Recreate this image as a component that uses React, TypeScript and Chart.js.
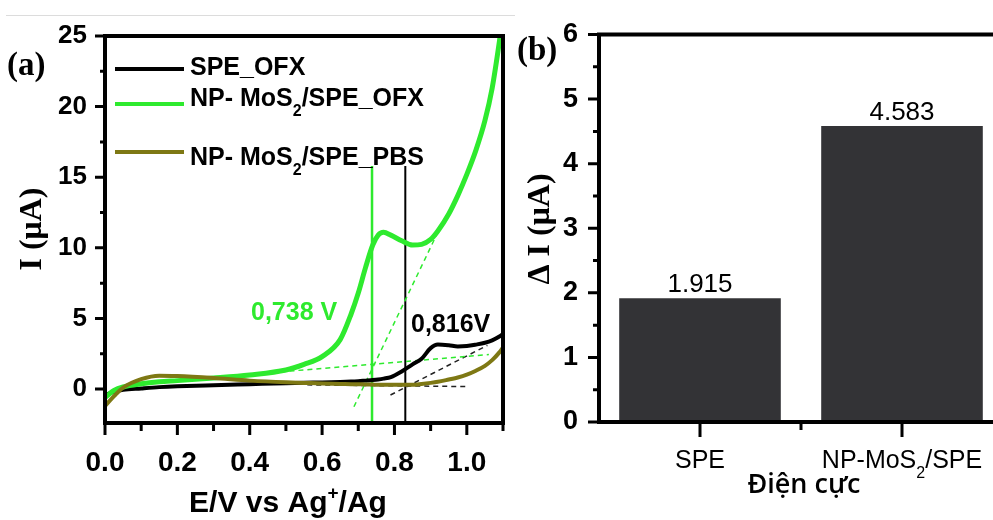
import React, { useEffect, useRef } from "react";
import { Chart, registerables } from "chart.js";
Chart.register(...registerables);

// ---------- Panel (a) data ----------
const potential = [0, 0.025, 0.05, 0.1, 0.15, 0.2, 0.3, 0.4, 0.5, 0.55, 0.6, 0.65, 0.68, 0.7, 0.72, 0.74, 0.755, 0.77, 0.79, 0.82, 0.85, 0.875, 0.9, 0.92, 0.95, 0.975, 1.0, 1.025, 1.05, 1.07, 1.09, 1.1];
const speOfx = [-0.4, -0.2, -0.05, 0.05, 0.14, 0.2, 0.28, 0.35, 0.42, 0.45, 0.47, 0.5, 0.53, 0.56, 0.6, 0.64, 0.68, 0.74, 0.85, 1.25, 1.75, 2.15, 2.9, 3.15, 3.1, 3.02, 3.05, 3.15, 3.28, 3.45, 3.72, 3.9];
const mos2Ofx = [-0.6, -0.1, 0.15, 0.38, 0.52, 0.6, 0.78, 1.0, 1.35, 1.75, 2.3, 3.5, 5.3, 6.8, 8.6, 10.2, 10.9, 11.1, 10.9, 10.5, 10.2, 10.25, 10.6, 11.2, 12.4, 13.7, 15.2, 16.9, 19.0, 21.3, 24.6, 26.5];
const mos2Pbs = [-1.2, -0.5, 0.1, 0.7, 0.95, 0.92, 0.78, 0.6, 0.48, 0.44, 0.4, 0.37, 0.35, 0.34, 0.33, 0.32, 0.31, 0.31, 0.3, 0.3, 0.3, 0.36, 0.44, 0.52, 0.68, 0.82, 1.02, 1.3, 1.65, 2.05, 2.6, 2.95];
const seriesNames = ["SPE_OFX", "NP- MoS_{2}/SPE_OFX", "NP- MoS_{2}/SPE_PBS"];

const greenBaseX = [0.485, 1.061];
const greenBaseY = [1.22, 2.45];
const greenSlopeX = [0.688, 0.918];
const greenSlopeY = [-1.25, 11.0];
const blackBaseX = [0.559, 0.997];
const blackBaseY = [0.3, 0.18];
const blackSlopeX = [0.789, 1.057];
const blackSlopeY = [-0.42, 3.1];

const onsetPotentials = [0.738, 0.83];
const onsetLineTop = 15.8;
const onsetLabels = ["0,738 V", "0,816V"];

const xMajorA = [0, 0.2, 0.4, 0.6, 0.8, 1.0];
const xMinorA = [0.1, 0.3, 0.5, 0.7, 0.9, 1.1];
const yMajorA = [0, 5, 10, 15, 20, 25];
const yMinorA = [2.5, 7.5, 12.5, 17.5, 22.5];

// ---------- Panel (b) data ----------
const electrodes = ["SPE", "NP-MoS_{2}/SPE"];
const deltaI = [1.915, 4.583];
const yMajorB = [0, 1, 2, 3, 4, 5, 6];
const yMinorB = [0.5, 1.5, 2.5, 3.5, 4.5, 5.5];

// ---------- styles ----------
const GREEN = "#2eea2e";
const OLIVE = "#7e7814";
const BAR = "#333336";
const SANS = '"Liberation Sans", Arial, sans-serif';
const SERIF = '"Liberation Serif", "Times New Roman", serif';

type Seg = { t: string; k: number };
function parseRich(s: string): Seg[] {
  const segs: Seg[] = [];
  const re = /([_^])\{([^}]*)\}/g;
  let last = 0;
  let m: RegExpExecArray | null;
  while ((m = re.exec(s))) {
    if (m.index > last) segs.push({ t: s.slice(last, m.index), k: 0 });
    segs.push({ t: m[2], k: m[1] === "_" ? 1 : -1 });
    last = re.lastIndex;
  }
  if (last < s.length) segs.push({ t: s.slice(last), k: 0 });
  return segs;
}
function drawRich(ctx: CanvasRenderingContext2D, s: string, x: number, y: number, size: number, weight: string, family: string, color: string, align: string) {
  const segs = parseRich(s);
  const small = Math.round(size * 0.62);
  const fontFor = (k: number) => `${weight} ${k === 0 ? size : small}px ${family}`;
  let w = 0;
  for (const sg of segs) {
    ctx.font = fontFor(sg.k);
    w += ctx.measureText(sg.t).width;
  }
  let cx = align === "center" ? x - w / 2 : align === "right" ? x - w : x;
  ctx.save();
  ctx.textAlign = "left";
  ctx.textBaseline = "alphabetic";
  ctx.fillStyle = color;
  for (const sg of segs) {
    ctx.font = fontFor(sg.k);
    const dy = sg.k === 1 ? size * 0.4 : sg.k === -1 ? -size * 0.45 : 0;
    ctx.fillText(sg.t, cx, y + dy);
    cx += ctx.measureText(sg.t).width;
  }
  ctx.restore();
}
function drawRotated(ctx: CanvasRenderingContext2D, s: string, cx: number, cy: number, font: string) {
  ctx.save();
  ctx.translate(cx, cy);
  ctx.rotate(-Math.PI / 2);
  ctx.font = font;
  ctx.fillStyle = "#000";
  ctx.textAlign = "center";
  ctx.textBaseline = "middle";
  ctx.fillText(s, 0, 0);
  ctx.restore();
}
const pts = (xs: number[], ys: number[]) => xs.map((x, i) => ({ x, y: ys[i] }));

function PanelA() {
  const ref = useRef<HTMLCanvasElement>(null);
  useEffect(() => {
    const yMin = -2.4;
    const lineDs = (label: string, data: any, color: string, width: number, order: number, dash?: number[]) => ({
      label, data, borderColor: color, backgroundColor: color, borderWidth: width, pointRadius: 0,
      cubicInterpolationMode: "monotone", fill: false, order, borderDash: dash || [],
    });
    const decor = {
      id: "decorA",
      afterDraw(chart: any) {
        const ctx = chart.ctx as CanvasRenderingContext2D;
        const { left, right, top, bottom } = chart.chartArea;
        const sx = chart.scales.x, sy = chart.scales.y;
        ctx.save();
        // page line
        ctx.strokeStyle = "#dcdcdc";
        ctx.lineWidth = 1;
        ctx.beginPath(); ctx.moveTo(6, 15.5); ctx.lineTo(515, 15.5); ctx.stroke();
        // frame
        ctx.strokeStyle = "#000";
        ctx.lineWidth = 4;
        ctx.strokeRect(left, top, right - left, bottom - top);
        // ticks
        ctx.lineWidth = 3;
        ctx.beginPath();
        for (const v of xMajorA) { const p = sx.getPixelForValue(v); ctx.moveTo(p, bottom); ctx.lineTo(p, bottom + 12); }
        for (const v of xMinorA) { const p = sx.getPixelForValue(v); ctx.moveTo(p, bottom); ctx.lineTo(p, bottom + 8); }
        for (const v of yMajorA) { const p = sy.getPixelForValue(v); ctx.moveTo(left, p); ctx.lineTo(left - 10, p); }
        for (const v of yMinorA) { const p = sy.getPixelForValue(v); ctx.moveTo(left, p); ctx.lineTo(left - 5, p); }
        ctx.stroke();
        // legend
        const legendColors = ["#000", GREEN, OLIVE];
        const lineYs = [69, 104, 152];
        const textYs = [75, 106, 165];
        seriesNames.forEach((n, i) => {
          ctx.strokeStyle = legendColors[i];
          ctx.lineWidth = 4;
          ctx.beginPath(); ctx.moveTo(115, lineYs[i]); ctx.lineTo(184, lineYs[i]); ctx.stroke();
          drawRich(ctx, n, 190, textYs[i], 25, "bold", SANS, "#000", "left");
        });
        // onset annotations
        drawRich(ctx, onsetLabels[0], 251, 320, 25, "bold", SANS, GREEN, "left");
        drawRich(ctx, onsetLabels[1], 411, 332, 25, "bold", SANS, "#000", "left");
        // titles
        drawRich(ctx, "(a)", 7, 75, 33, "bold", SERIF, "#000", "left");
        drawRich(ctx, "E/V vs Ag^{+}/Ag", 288, 512, 30, "bold", SANS, "#000", "center");
        drawRotated(ctx, "I (\u03bcA)", 33, 229, `bold 32px ${SERIF}`);
        ctx.restore();
      },
    };
    const chart = new Chart(ref.current!, {
      type: "line",
      data: {
        datasets: [
          lineDs(seriesNames[0], pts(potential, speOfx), "#000", 4, 3),
          lineDs(seriesNames[1], pts(potential, mos2Ofx), GREEN, 5, 2),
          lineDs(seriesNames[2], pts(potential, mos2Pbs), OLIVE, 4, 1),
          lineDs("t1", pts(greenBaseX, greenBaseY), GREEN, 1.5, 4, [5, 4]),
          lineDs("t2", pts(greenSlopeX, greenSlopeY), GREEN, 1.5, 4, [5, 4]),
          lineDs("t3", pts(blackBaseX, blackBaseY), "#222", 1.5, 4, [5, 4]),
          lineDs("t4", pts(blackSlopeX, blackSlopeY), "#222", 1.5, 4, [5, 4]),
          lineDs("v1", pts([onsetPotentials[0], onsetPotentials[0]], [yMin, onsetLineTop]), GREEN, 2.5, 5),
          lineDs("v2", pts([onsetPotentials[1], onsetPotentials[1]], [yMin, onsetLineTop]), "#000", 2, 5),
        ] as any,
      },
      options: {
        animation: false,
        responsive: false,
        layout: { padding: { left: 0, top: 36, right: 12, bottom: 0 } },
        plugins: { legend: { display: false }, tooltip: { enabled: false } },
        scales: {
          x: {
            type: "linear", min: 0, max: 1.1,
            grid: { display: false, drawTicks: false }, border: { display: false },
            ticks: { color: "#000", padding: 26, maxRotation: 0, autoSkip: false, font: { family: SANS, size: 28, weight: "bold", lineHeight: 1 }, callback: (v: any) => Number(v).toFixed(1) },
            afterBuildTicks: (s: any) => { s.ticks = xMajorA.map((v) => ({ value: v })); },
            afterFit: (s: any) => { s.height = 97; },
          },
          y: {
            type: "linear", min: yMin, max: 25,
            grid: { display: false, drawTicks: false }, border: { display: false },
            ticks: { color: "#000", padding: 18, autoSkip: false, font: { family: SANS, size: 26, weight: "bold", lineHeight: 1 } },
            afterBuildTicks: (s: any) => { s.ticks = yMajorA.map((v) => ({ value: v })); },
            afterFit: (s: any) => { s.width = 105; },
          },
        },
      } as any,
      plugins: [decor],
    });
    return () => chart.destroy();
  }, []);
  return <canvas ref={ref} width={515} height={520} style={{ position: "absolute", left: 0, top: 0, width: 515, height: 520 }} />;
}

function PanelB() {
  const ref = useRef<HTMLCanvasElement>(null);
  useEffect(() => {
    const decor = {
      id: "decorB",
      afterDraw(chart: any) {
        const ctx = chart.ctx as CanvasRenderingContext2D;
        const { left, right, top, bottom } = chart.chartArea;
        const sx = chart.scales.x, sy = chart.scales.y;
        ctx.save();
        ctx.strokeStyle = "#000";
        ctx.lineWidth = 4;
        ctx.strokeRect(left, top, right - left, bottom - top);
        ctx.lineWidth = 3;
        ctx.beginPath();
        for (const v of yMajorB) { const p = sy.getPixelForValue(v); ctx.moveTo(left, p); ctx.lineTo(left - 11, p); }
        for (const v of yMinorB) { const p = sy.getPixelForValue(v); ctx.moveTo(left, p); ctx.lineTo(left - 6, p); }
        electrodes.forEach((_, i) => {
          const p = sx.getPixelForValue(i);
          ctx.moveTo(p, bottom); ctx.lineTo(p, bottom + 15);
          if (i < electrodes.length - 1) {
            const q = (p + sx.getPixelForValue(i + 1)) / 2;
            ctx.moveTo(q, bottom); ctx.lineTo(q, bottom + 8);
          }
        });
        ctx.stroke();
        // category labels
        electrodes.forEach((c, i) => {
          drawRich(ctx, c, sx.getPixelForValue(i), 468, 25, "normal", SANS, "#000", "center");
        });
        // value labels
        const meta = chart.getDatasetMeta(0);
        meta.data.forEach((el: any, i: number) => {
          drawRich(ctx, deltaI[i].toFixed(3), el.x, el.y - 6, 26, "normal", SANS, "#000", "center");
        });
        drawRich(ctx, "(b)", 12, 60, 33, "bold", SERIF, "#000", "left");
        drawRich(ctx, "\u0110i\u1ec7n c\u1ef1c", 299, 493, 27, "600", '"Open Sans", "Noto Sans", sans-serif', "#000", "center");
        drawRotated(ctx, "\u0394 I (\u03bcA)", 36, 229, `bold 32px ${SERIF}`);
        ctx.restore();
      },
    };
    const chart = new Chart(ref.current!, {
      type: "bar",
      data: {
        labels: electrodes.map((e) => e.replace(/_\{([^}]*)\}/g, "$1")),
        datasets: [{ data: deltaI, backgroundColor: BAR, borderWidth: 0, barPercentage: 0.8, categoryPercentage: 1 }],
      },
      options: {
        animation: false,
        responsive: false,
        layout: { padding: { left: 0, top: 33, right: 12, bottom: 0 } },
        plugins: { legend: { display: false }, tooltip: { enabled: false } },
        scales: {
          x: {
            type: "category", offset: true,
            grid: { display: false, drawTicks: false }, border: { display: false },
            ticks: { display: false },
            afterFit: (s: any) => { s.height = 98; },
          },
          y: {
            type: "linear", min: 0, max: 6,
            grid: { display: false, drawTicks: false }, border: { display: false },
            ticks: { color: "#000", padding: 21, autoSkip: false, font: { family: SANS, size: 27, weight: "bold", lineHeight: 1 } },
            afterBuildTicks: (s: any) => { s.ticks = yMajorB.map((v) => ({ value: v })); },
            afterFit: (s: any) => { s.width = 94; },
          },
        },
      } as any,
      plugins: [decor],
    });
    return () => chart.destroy();
  }, []);
  return <canvas ref={ref} width={510} height={520} style={{ position: "absolute", left: 505, top: 0, width: 510, height: 520 }} />;
}

export default function App() {
  return (
    <div style={{ position: "fixed", left: 0, top: 0, width: 993, height: 520, overflow: "hidden", background: "#fff" }}>
      <PanelA />
      <PanelB />
    </div>
  );
}
